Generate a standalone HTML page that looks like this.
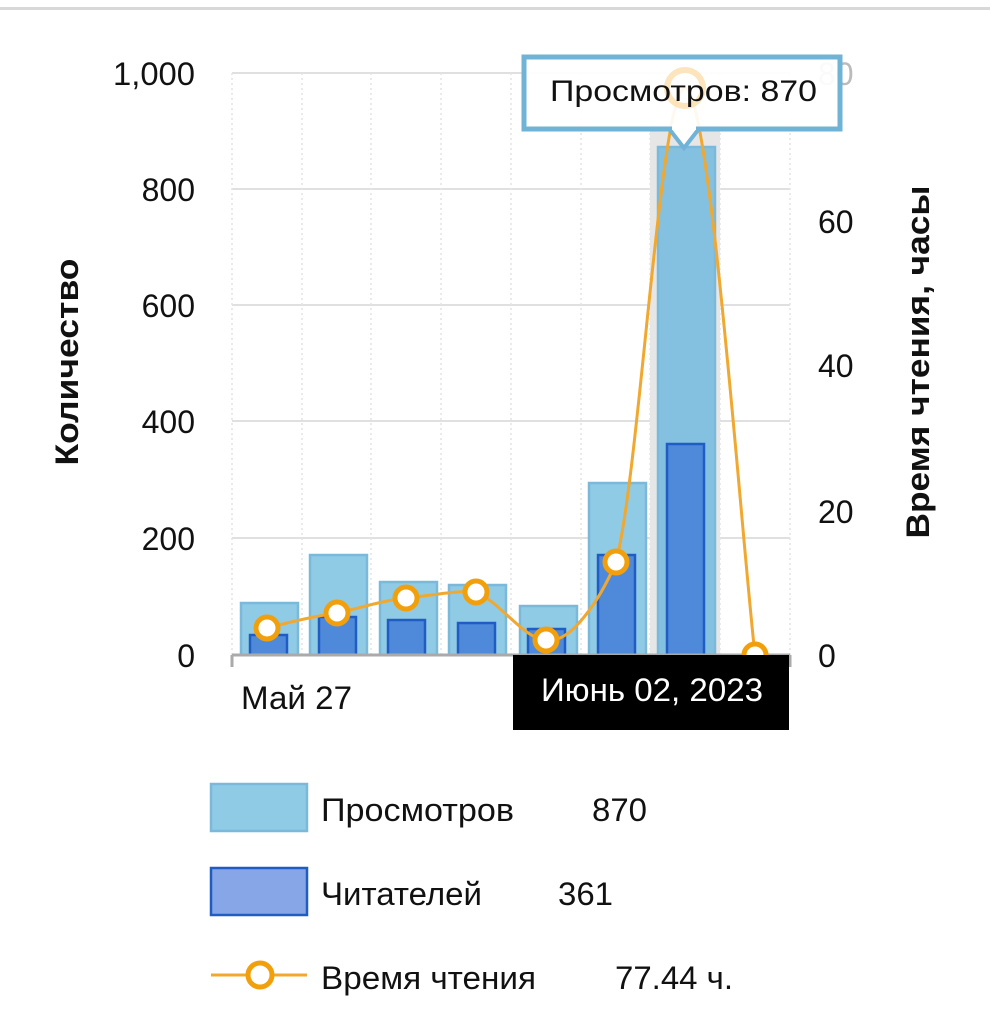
<!DOCTYPE html>
<html><head><meta charset="utf-8"><style>
body{margin:0;background:#fff;}
svg{display:block;font-family:"Liberation Sans","DejaVu Sans",sans-serif;}
</style></head><body>
<svg width="990" height="1028" viewBox="0 0 990 1028">
<rect x="0" y="7" width="990" height="3" fill="#d8d8d8"/>
<g stroke="#e0e0e0" stroke-width="2">
<line x1="232" y1="73" x2="790" y2="73"/><line x1="232" y1="189" x2="790" y2="189"/>
<line x1="232" y1="305" x2="790" y2="305"/><line x1="232" y1="421" x2="790" y2="421"/>
<line x1="232" y1="538" x2="790" y2="538"/>
</g>
<g stroke="#e4e4e4" stroke-width="1.5" stroke-dasharray="2,3">
<line x1="232" y1="73" x2="232" y2="655"/><line x1="302" y1="73" x2="302" y2="655"/>
<line x1="371" y1="73" x2="371" y2="655"/><line x1="441" y1="73" x2="441" y2="655"/>
<line x1="511" y1="73" x2="511" y2="655"/><line x1="581" y1="73" x2="581" y2="655"/>
<line x1="650" y1="73" x2="650" y2="655"/><line x1="720" y1="73" x2="720" y2="655"/>
<line x1="790" y1="73" x2="790" y2="655"/>
</g>
<rect x="650" y="125" width="70" height="530" fill="#e6e6e6"/>
<g fill="#90cbe6" stroke="#7ab9da" stroke-width="2.5">
<rect x="241" y="603" width="57" height="52"/>
<rect x="310" y="555" width="57" height="100"/>
<rect x="380" y="582" width="57" height="73"/>
<rect x="449" y="585" width="57" height="70"/>
<rect x="520" y="606" width="57" height="49"/>
<rect x="589" y="483" width="57" height="172"/>
<rect x="658" y="147" width="57" height="508" fill="#84c0e0"/>
</g>
<g fill="#4e8ad9" stroke="#1f5cc4" stroke-width="2.5">
<rect x="250" y="635" width="37" height="20"/>
<rect x="319" y="617" width="37" height="38"/>
<rect x="388" y="620" width="37" height="35"/>
<rect x="458" y="623" width="37" height="32"/>
<rect x="528" y="629" width="37" height="26"/>
<rect x="598" y="555" width="37" height="100"/>
<rect x="667" y="444" width="37" height="211"/>
</g>
<line x1="232" y1="655" x2="790" y2="655" stroke="#aaa" stroke-width="3"/>
<line x1="232" y1="655" x2="232" y2="667" stroke="#aaa" stroke-width="3"/>
<line x1="790" y1="655" x2="790" y2="667" stroke="#aaa" stroke-width="3"/>
<path d="M267,628 C290,622 315,616 337,613 C360,608 385,600 406,598 C430,596 455,590 476,592 C500,602 525,640 546,640 C570,645 600,600 616,562 C640,470 660,90 685,88 C710,90 740,520 755,655" fill="none" stroke="#f0a830" stroke-width="3"/>
<g fill="#fff" stroke="#f29f0c" stroke-width="5">
<circle cx="267" cy="628" r="11"/><circle cx="337" cy="613" r="11"/>
<circle cx="406" cy="598" r="11"/><circle cx="476" cy="592" r="11"/>
<circle cx="546" cy="640" r="11"/><circle cx="616" cy="562" r="11"/>
<circle cx="755" cy="655" r="11"/>
</g>
<g font-size="32" fill="#111" text-anchor="end">
<text x="195" y="85" textLength="82" lengthAdjust="spacingAndGlyphs">1,000</text><text x="195" y="201">800</text>
<text x="195" y="317">600</text><text x="195" y="433">400</text>
<text x="195" y="550">200</text><text x="195" y="667">0</text>
</g>
<g font-size="32" fill="#111">
<text x="818" y="233">60</text><text x="818" y="377">40</text>
<text x="818" y="523">20</text><text x="818" y="667">0</text>
<text x="818" y="85" fill="#bbb">80</text>
<text x="241" y="709" textLength="111" lengthAdjust="spacingAndGlyphs">Май 27</text>
</g>
<text transform="translate(78,362) rotate(-90)" font-size="32" font-weight="bold" text-anchor="middle" fill="#111" textLength="207" lengthAdjust="spacingAndGlyphs">Количество</text>
<text transform="translate(929,362) rotate(-90)" font-size="32" font-weight="bold" text-anchor="middle" fill="#111" textLength="353" lengthAdjust="spacingAndGlyphs">Время чтения, часы</text>
<rect x="524" y="57" width="316" height="72" fill="#fff" fill-opacity="0.92" stroke="#6fb3d6" stroke-width="5"/>
<path d="M670,130 L684,148 L698,130" fill="#fff" stroke="#6fb3d6" stroke-width="4"/>
<rect x="672" y="124" width="24" height="6" fill="#fff"/>
<circle cx="685" cy="88" r="18" fill="none" stroke="#fbd9a0" stroke-width="6" opacity="0.7"/>
<text x="550" y="101" font-size="30" fill="#111" textLength="267" lengthAdjust="spacingAndGlyphs">Просмотров: 870</text>
<rect x="513" y="655" width="276" height="75" fill="#000"/>
<text x="541" y="701" font-size="32" fill="#fff" textLength="222" lengthAdjust="spacingAndGlyphs">Июнь 02, 2023</text>
<rect x="211" y="784" width="96" height="47" fill="#90cbe6" stroke="#7ab9da" stroke-width="2.5"/>
<rect x="211" y="868" width="96" height="47" fill="#86a6e8" stroke="#1f5cc4" stroke-width="2.5"/>
<line x1="211" y1="975" x2="307" y2="975" stroke="#f0a830" stroke-width="3"/>
<circle cx="260" cy="975" r="12" fill="#fff" stroke="#f29f0c" stroke-width="5"/>
<g font-size="32" fill="#111" lengthAdjust="spacingAndGlyphs">
<text x="321" y="821" textLength="193" lengthAdjust="spacingAndGlyphs">Просмотров</text><text x="592" y="821" textLength="55" lengthAdjust="spacingAndGlyphs">870</text>
<text x="321" y="905" textLength="161" lengthAdjust="spacingAndGlyphs">Читателей</text><text x="558" y="905" textLength="55" lengthAdjust="spacingAndGlyphs">361</text>
<text x="321" y="989" textLength="215" lengthAdjust="spacingAndGlyphs">Время чтения</text><text x="615" y="989" textLength="118" lengthAdjust="spacingAndGlyphs">77.44 ч.</text>
</g>
</svg>
</body></html>
